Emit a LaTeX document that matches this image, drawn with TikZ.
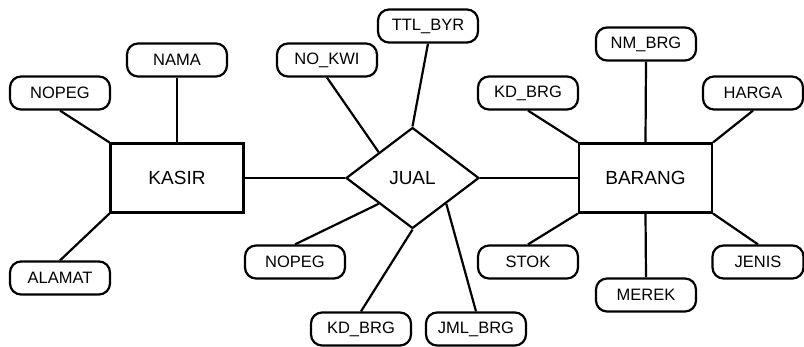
\documentclass[tikz,border=0pt]{standalone}
\usepackage{fontspec}
\setmainfont{Liberation Sans}
\usetikzlibrary{shapes.geometric, positioning}

\begin{document}
\begin{tikzpicture}[
    x=1pt, y=-1pt,
    entitas/.style={rectangle, draw, line width=2.2pt, minimum width=133pt,
                 minimum height=69pt, font=\fontsize{19}{22}\selectfont},
    relasi/.style={diamond, draw, line width=2.2pt, minimum width=133pt,
                 minimum height=101pt, inner sep=0pt, font=\fontsize{19}{22}\selectfont},
    atribut/.style={rectangle, rounded corners=11pt, draw, line width=2.2pt,
                 minimum width=100pt, minimum height=33pt, inner sep=2pt,
                 font=\fontsize{16.5}{19}\selectfont},
    garis/.style={line width=2.2pt},
  ]
    \useasboundingbox (0,0) rectangle (804,347);

    \node[entitas] (kasir) at (177,178) {KASIR};
    \node[relasi] (jual) at (412.5,178) {JUAL};
    \node[entitas] (barang) at (645.5,178) {BARANG};

    % atribut kasir
    \node[atribut] (nopegK) at (60,93) {NOPEG};
    \node[atribut] (nama) at (177,60) {NAMA};
    \node[atribut] (alamat) at (60,278) {ALAMAT};

    % atribut jual
    \node[atribut] (nokwi) at (327,60) {NO\_KWI};
    \node[atribut] (ttlbyr) at (428,26) {TTL\_BYR};
    \node[atribut] (nopegJ) at (295,262) {NOPEG};
    \node[atribut] (kdbrgJ) at (361,329) {KD\_BRG};
    \node[atribut] (jmlbrg) at (476,329) {JML\_BRG};

    % atribut barang
    \node[atribut] (nmbrg) at (646,44) {NM\_BRG};
    \node[atribut] (kdbrgB) at (528,93) {KD\_BRG};
    \node[atribut] (harga) at (753,93) {HARGA};
    \node[atribut] (stok) at (528,262) {STOK};
    \node[atribut] (merek) at (646,295) {MEREK};
    \node[atribut, minimum width=91pt] (jenis) at (758,262) {JENIS};

    \draw[garis] (kasir) -- (jual) -- (barang);

    \draw[garis] (nopegK.south) -- (kasir.north west);
    \draw[garis] (nama.south) -- (kasir.north);
    \draw[garis] (alamat.north) -- (kasir.south west);

    \draw[garis] (nokwi.south) -- (jual.north west);
    \draw[garis] (ttlbyr.south) -- (jual.north);
    \draw[garis] (nopegJ.north) -- (jual.south west);
    \draw[garis] (kdbrgJ.north) -- (jual.south);
    \draw[garis] (jmlbrg.north) -- (jual.south east);

    \draw[garis] (nmbrg.south) -- (barang.north);
    \draw[garis] (kdbrgB.south) -- (barang.north west);
    \draw[garis] (harga.south) -- (barang.north east);
    \draw[garis] (stok.north) -- (barang.south west);
    \draw[garis] (merek.north) -- (barang.south);
    \draw[garis] (jenis.north) -- (barang.south east);
  \end{tikzpicture}
\end{document}
